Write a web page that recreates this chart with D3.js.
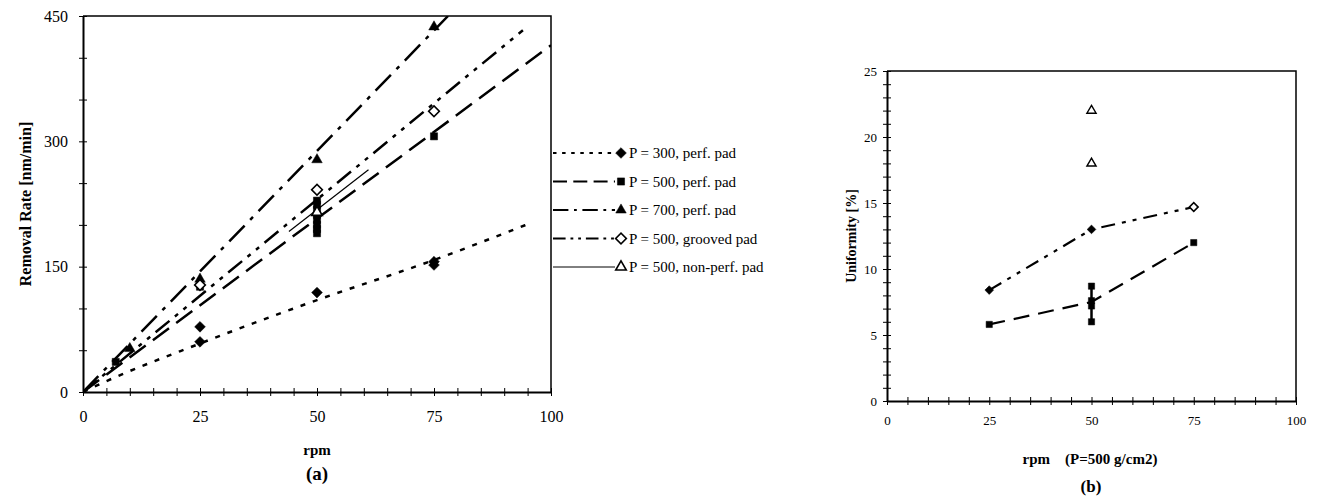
<!DOCTYPE html>
<html>
<head>
<meta charset="utf-8">
<script src="https://cdn.jsdelivr.net/npm/d3@7"></script>
<style>
  body { margin: 0; background: #fff; }
  svg { display: block; font-family: "Liberation Serif", "Times New Roman", serif; }
</style>
</head>
<body>
<svg id="chart" width="1321" height="498"></svg>
<script>
// (a) removal rate vs rpm, measured points
const p300Rpm = [25, 25, 50, 75, 75];
const p300Rate = [78, 60, 119, 152, 156];
const p500Rpm = [7, 25, 50, 50, 50, 50, 50, 50, 50, 50, 75];
const p500Rate = [36, 126, 229, 224, 218, 212, 206, 200, 195, 190, 306];
const p700Rpm = [10, 25, 50, 75];
const p700Rate = [52, 135, 278, 437];
const groovedRpm = [25, 50, 75];
const groovedRate = [128, 242, 336];
const nonPerfRpm = [50];
const nonPerfRate = [215];

// (a) trend lines
const p300FitRpm = [0, 5, 25, 50, 75, 96];
const p300FitRate = [0, 13, 58, 110, 158, 203];
const p500FitRpm = [0, 100];
const p500FitRate = [0, 415];
const p700FitRpm = [0, 78];
const p700FitRate = [0, 450];
const groovedFitRpm = [0, 94];
const groovedFitRate = [0, 433];
const nonPerfFitRpm = [44, 61];
const nonPerfFitRate = [192, 266];

const legendLabels = [
  "P = 300, perf. pad",
  "P = 500, perf. pad",
  "P = 700, perf. pad",
  "P = 500, grooved pad",
  "P = 500, non-perf. pad"
];

// (b) uniformity vs rpm at P=500
const bRpm = [25, 50, 75];
const bGrooved = [8.4, 13.0, 14.7];
const bPerfRpm = [25, 50, 50, 50, 50, 75];
const bPerf = [5.8, 8.7, 7.6, 7.2, 6.0, 12.0];
const bPerfLine = [5.8, 7.5, 12.0];
const bPerfSpread = [6.0, 8.7];   // vertical bar at 50 rpm
const bNonPerfRpm = [50, 50];
const bNonPerf = [22.0, 18.0];

const aXTicks = d3.range(0, 101, 5);
const aXLabels = [0, 25, 50, 75, 100];
const aYTicks = d3.range(0, 451, 50);
const aYLabels = [0, 150, 300, 450];
const bXTicks = d3.range(0, 101, 5);
const bXLabels = [0, 25, 50, 75, 100];
const bYTicks = d3.range(0, 26, 1);
const bYLabels = [0, 5, 10, 15, 20, 25];

const serif = "'Liberation Serif', 'Times New Roman', serif";
const svg = d3.select("#chart");
const zip = (xs, ys) => xs.map((x, i) => ({ x: x, y: ys[i] }));

// line styles per series
const styles = {
  p300:    { dash: "5,8", width: 2.5 },
  p500:    { dash: "20,9", width: 2.5 },
  p700:    { dash: "22,8,4,8", width: 2.5 },
  grooved: { dash: "18,7,4,7,4,7", width: 2.5 },
  nonPerf: { dash: null, width: 1.2 }
};

// marker helper: shape + filled/open
function marker(g, shape, filled, cx, cy, s, sw) {
  let p;
  if (shape === "diamond") {
    p = g.append("path")
      .attr("d", d3.symbol(d3.symbolSquare, s * s * 0.9)())
      .attr("transform", `translate(${cx},${cy}) rotate(45)`);
  } else if (shape === "square") {
    p = g.append("path")
      .attr("d", d3.symbol(d3.symbolSquare, s * s * 0.8)())
      .attr("transform", `translate(${cx},${cy})`);
  } else {
    p = g.append("path")
      .attr("d", d3.symbol(d3.symbolTriangle, s * s * 0.75)())
      .attr("transform", `translate(${cx},${cy})`);
  }
  p.attr("fill", filled ? "#000" : "#fff")
   .attr("stroke", "#000")
   .attr("stroke-width", filled ? 0.5 : (sw || 1.6));
}

// draws a framed plot with crossing ticks
function frame(x, y, xTicks, xLabels, yTicks, yLabels, fs, xPad, yPad) {
  const [x0, x1] = x.range();
  const [y0, y1] = y.range();

  const xa = svg.append("g")
    .attr("transform", `translate(0,${y0})`)
    .call(d3.axisBottom(x).tickValues(xTicks).tickSize(4).tickSizeOuter(0)
      .tickPadding(xPad)
      .tickFormat(d => xLabels.includes(d) ? d : ""));
  xa.selectAll(".tick line").attr("y1", -4).attr("y2", 4);

  const ya = svg.append("g")
    .attr("transform", `translate(${x0},0)`)
    .call(d3.axisLeft(y).tickValues(yTicks).tickSize(4).tickSizeOuter(0)
      .tickPadding(yPad)
      .tickFormat(d => yLabels.includes(d) ? d : ""));
  ya.selectAll(".tick line").attr("x1", -4).attr("x2", 4);

  [xa, ya].forEach(a => {
    a.attr("font-family", null);
    a.select(".domain").attr("stroke-width", 2);
    a.selectAll(".tick line").attr("stroke-width", 1);
    a.selectAll("text")
      .style("font-family", serif)
      .style("font-size", fs + "px")
      .attr("fill", "#000");
  });

  // top + right border
  svg.append("path")
    .attr("d", `M${x0},${y1}H${x1}V${y0}`)
    .attr("fill", "none")
    .attr("stroke", "#000")
    .attr("stroke-width", 1.5);
}

// ---------- (a) ----------
const xa = d3.scaleLinear().domain([0, 100]).range([83, 551]);
const ya = d3.scaleLinear().domain([0, 450]).range([392, 16]);

svg.append("clipPath").attr("id", "clipA")
  .append("rect").attr("x", 83).attr("y", 16).attr("width", 468).attr("height", 376);

const gA = svg.append("g").attr("clip-path", "url(#clipA)");

const lineA = d3.line().x(d => xa(d.x)).y(d => ya(d.y)).curve(d3.curveMonotoneX);

const fitsA = [
  { key: "p300", pts: zip(p300FitRpm, p300FitRate) },
  { key: "p500", pts: zip(p500FitRpm, p500FitRate) },
  { key: "p700", pts: zip(p700FitRpm, p700FitRate) },
  { key: "grooved", pts: zip(groovedFitRpm, groovedFitRate) },
  { key: "nonPerf", pts: zip(nonPerfFitRpm, nonPerfFitRate) }
];

fitsA.forEach(f => {
  gA.append("path")
    .datum(f.pts)
    .attr("d", lineA)
    .attr("fill", "none")
    .attr("stroke", "#000")
    .attr("stroke-width", styles[f.key].width)
    .attr("stroke-dasharray", styles[f.key].dash);
});

const pointsA = [
  { shape: "diamond", filled: true, pts: zip(p300Rpm, p300Rate) },
  { shape: "square", filled: true, pts: zip(p500Rpm, p500Rate) },
  { shape: "triangle", filled: true, pts: zip(p700Rpm, p700Rate) },
  { shape: "diamond", filled: false, pts: zip(groovedRpm, groovedRate) },
  { shape: "triangle", filled: false, pts: zip(nonPerfRpm, nonPerfRate) }
];
pointsA.forEach(s => s.pts.forEach(d => marker(gA, s.shape, s.filled, xa(d.x), ya(d.y), 8)));

frame(xa, ya, aXTicks, aXLabels, aYTicks, aYLabels, 16, 15, 11);

// legend (a)
const legKeys = ["p300", "p500", "p700", "grooved", "nonPerf"];
const legend = svg.append("g");
legendLabels.forEach((lab, i) => {
  const ly = 153 + i * 28.5;
  const st = styles[legKeys[i]];
  legend.append("line")
    .attr("x1", 553).attr("x2", 615).attr("y1", ly).attr("y2", ly)
    .attr("stroke", "#000")
    .attr("stroke-width", st.dash ? 2 : 1)
    .attr("stroke-dasharray", st.dash ? st.dash.split(",").map(v => v * 0.7).join(",") : null);
  marker(legend, pointsA[i].shape, pointsA[i].filled, 621, ly, 8);
  legend.append("text")
    .attr("x", 629).attr("y", ly + 5)
    .style("font-family", serif)
    .style("font-size", "15px")
    .text(lab);
});

// titles (a)
svg.append("text")
  .attr("transform", "translate(31,204) rotate(-90)")
  .attr("text-anchor", "middle")
  .attr("font-weight", "bold")
  .style("font-size", "16px")
  .text("Removal Rate [nm/min]");
svg.append("text")
  .attr("x", 317).attr("y", 455)
  .attr("text-anchor", "middle")
  .attr("font-weight", "bold")
  .style("font-size", "15px")
  .text("rpm");
svg.append("text")
  .attr("x", 317).attr("y", 480)
  .attr("text-anchor", "middle")
  .attr("font-weight", "bold")
  .style("font-size", "19px")
  .text("(a)");

// ---------- (b) ----------
const xb = d3.scaleLinear().domain([0, 100]).range([887, 1296]);
const yb = d3.scaleLinear().domain([0, 25]).range([401, 71]);

const lineB = d3.line().x(d => xb(d.x)).y(d => yb(d.y));

svg.append("path")
  .datum(zip(bRpm, bGrooved))
  .attr("d", lineB)
  .attr("fill", "none").attr("stroke", "#000").attr("stroke-width", 2.2)
  .attr("stroke-dasharray", "14,7,4,7,4,7");
svg.append("path")
  .datum(zip(bRpm, bPerfLine))
  .attr("d", lineB)
  .attr("fill", "none").attr("stroke", "#000").attr("stroke-width", 2.2)
  .attr("stroke-dasharray", "16,9");

// spread of perf-pad points at 50 rpm
svg.append("line")
  .attr("x1", xb(50)).attr("x2", xb(50))
  .attr("y1", yb(bPerfSpread[0])).attr("y2", yb(bPerfSpread[1]))
  .attr("stroke", "#000").attr("stroke-width", 2.5);

const gB = svg.append("g");
zip(bPerfRpm, bPerf).forEach(d => marker(gB, "square", true, xb(d.x), yb(d.y), 7));
zip(bRpm, bGrooved).forEach((d, i) => marker(gB, "diamond", i < 2, xb(d.x), yb(d.y), 6.5));
zip(bNonPerfRpm, bNonPerf).forEach(d => marker(gB, "triangle", false, xb(d.x), yb(d.y), 7, 1.4));

frame(xb, yb, bXTicks, bXLabels, bYTicks, bYLabels, 13, 11, 6);

svg.append("text")
  .attr("transform", "translate(856,236) rotate(-90)")
  .attr("text-anchor", "middle")
  .attr("font-weight", "bold")
  .style("font-size", "14px")
  .text("Uniformity [%]");
svg.append("text")
  .attr("x", 1090).attr("y", 464)
  .attr("text-anchor", "middle")
  .attr("font-weight", "bold")
  .style("font-size", "15px")
  .style("white-space", "pre")
  .text("rpm    (P=500 g/cm2)");
svg.append("text")
  .attr("x", 1091).attr("y", 492)
  .attr("text-anchor", "middle")
  .attr("font-weight", "bold")
  .style("font-size", "17px")
  .text("(b)");
</script>
</body>
</html>
